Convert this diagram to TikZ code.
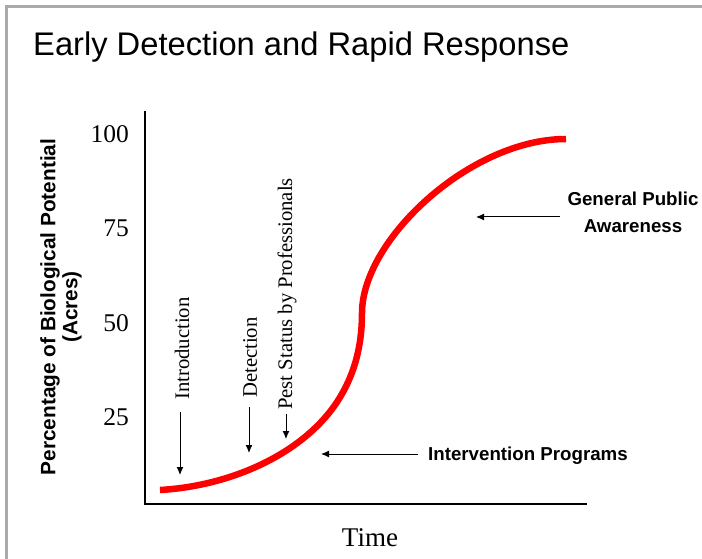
\documentclass[tikz,border=0pt]{standalone}
\usepackage{fontspec}
\setmainfont{Liberation Serif}
\setsansfont{Liberation Sans}
\usetikzlibrary{arrows.meta}
\definecolor{framegray}{RGB}{170,170,170}
\definecolor{curvered}{RGB}{255,0,0}
\tikzset{
  arr/.style={line width=1pt, -{Latex[length=8pt,width=7pt]}},
  axis/.style={line width=2.6pt, line cap=rect},
  num/.style={font=\fontsize{25.5}{25.5}\selectfont, anchor=east, inner sep=0pt},
  stage/.style={font=\fontsize{20.7}{20.7}\selectfont, rotate=90, anchor=west, inner sep=0pt},
  note/.style={font=\sffamily\bfseries\fontsize{18.7}{27}\selectfont, inner sep=0pt, align=center},
}
\begin{document}
\begin{tikzpicture}[x=1pt,y=-1pt]
\useasboundingbox (0,0) rectangle (702,559);
\fill[white] (0,0) rectangle (702,559);
% frame
\draw[framegray, line width=3pt] (6,559) -- (6,7) -- (702,7);
% title
\node[font=\sffamily\fontsize{32.7}{32.7}\selectfont, anchor=base west, inner sep=0pt] (title) at (33,56) {Early Detection and Rapid Response};
% axes
\coordinate (top) at (145,112);
\coordinate (origin) at (145,504);
\coordinate (right) at (586,504);
\draw[axis] (top) -- (origin) -- (right);
% numbers
\node[num] (n100) at (129,134) {100};
\node[num] (n75) at (129,228) {75};
\node[num] (n50) at (129,323) {50};
\node[num] (n25) at (129,417) {25};
% y title
\node[font=\sffamily\bfseries\fontsize{20.8}{22}\selectfont, rotate=90, align=center, inner sep=0pt] (ytitle) at (61,307) {Percentage of Biological Potential\\(Acres)};
% x title
\node[font=\fontsize{27}{27}\selectfont, inner sep=0pt] (xtitle) at (370,538) {Time};
% curve
\draw[curvered, line width=6.5pt] (160,490) .. controls (230,486) and (300,455) .. (335,405)
  .. controls (355,376) and (362,345) .. (362,313)
  .. controls (362,240) and (470,139) .. (566,139);
% stage labels
\node[stage] (intro) at (182,400) {Introduction};
\node[stage] (detect) at (250,398) {Detection};
\node[stage] (pest) at (287,410) {Pest Status by Professionals};
\coordinate (introtip) at (180,475);
\coordinate (detecttip) at (249,453);
\coordinate (pesttip) at (286,439);
\draw[arr] (180,412) -- (introtip);
\draw[arr] (249,407) -- (detecttip);
\draw[arr] (286,414) -- (pesttip);
% notes
\node[note] (gpa) at (633,212) {General Public\\Awareness};
\coordinate (gpastart) at (560,217);
\coordinate (gpatip) at (476,217);
\draw[arr] (gpastart) -- (gpatip);
\node[note, anchor=west] (ip) at (428,456) {Intervention Programs};
\coordinate (ipstart) at (418,454);
\coordinate (iptip) at (321,454);
\draw[arr] (ipstart) -- (iptip);
\end{tikzpicture}
\end{document}
